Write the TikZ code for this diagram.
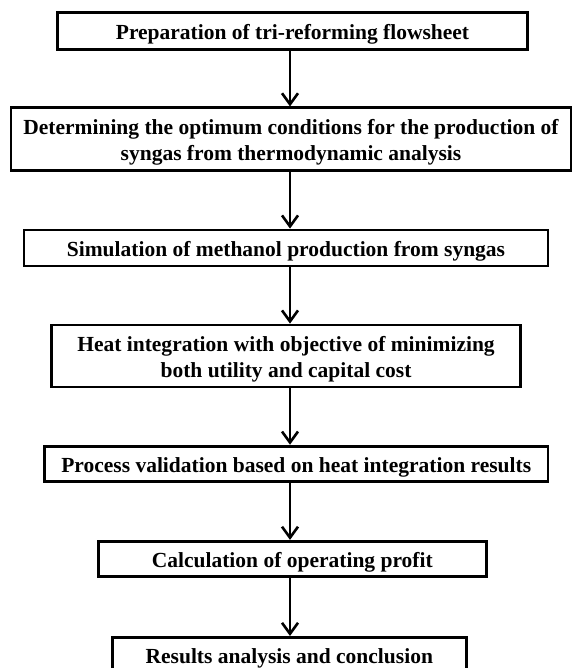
\documentclass[tikz,border=0pt]{standalone}
\usepackage{fontspec}
\setmainfont{Liberation Serif}
\usetikzlibrary{arrows.meta}
\newcommand\lowln[1]{\raisebox{-3pt}[\height][\depth]{#1}}
\begin{document}
\begin{tikzpicture}[x=1pt,y=-1pt,
  stepbox/.style={draw=black,line width=2.8pt,fill=white,inner sep=0pt,align=center,
    font=\fontsize{21.5}{26}\selectfont\bfseries},
  flow/.style={line width=2.6pt,-{Straight Barb[length=11pt,width=16pt,line width=2.6pt]}}]
\useasboundingbox (0,0) rectangle (573,668);
\clip (0,0) rectangle (573,668);
\node[stepbox,minimum width=469.6pt,minimum height=36.6pt] (b1) at (292.5,31) {\lowln{Preparation of tri-reforming flowsheet}};
\node[stepbox,minimum width=560pt,minimum height=62.3pt] (b2) at (291,139) {\lowln{Determining the optimum conditions for the production of}\\\lowln{syngas from thermodynamic analysis}};
\node[stepbox,minimum width=524pt,minimum height=36pt] (b3) at (286,248) {\lowln{Simulation of methanol production from syngas}};
\node[stepbox,minimum width=469pt,minimum height=62pt] (b4) at (286,356) {\lowln{Heat integration with objective of minimizing}\\\lowln{both utility and capital cost}};
\node[stepbox,minimum width=503.7pt,minimum height=35.7pt] (b5) at (296.2,464) {\lowln{Process validation based on heat integration results}};
\node[stepbox,minimum width=388pt,minimum height=35.4pt] (b6) at (292.3,559) {\lowln{Calculation of operating profit}};
\node[stepbox,minimum width=354pt,minimum height=36pt,anchor=north] (b7) at (289.3,636) {\lowln{Results analysis and conclusion}};
\coordinate (ax) at (290,0);
\draw[flow] (b1.south -| ax) -- (b2.north -| ax);
\draw[flow] (b2.south -| ax) -- (b3.north -| ax);
\draw[flow] (b3.south -| ax) -- (b4.north -| ax);
\draw[flow] (b4.south -| ax) -- (b5.north -| ax);
\draw[flow] (b5.south -| ax) -- (b6.north -| ax);
\draw[flow] (b6.south -| ax) -- (b7.north -| ax);
\end{tikzpicture}
\end{document}
